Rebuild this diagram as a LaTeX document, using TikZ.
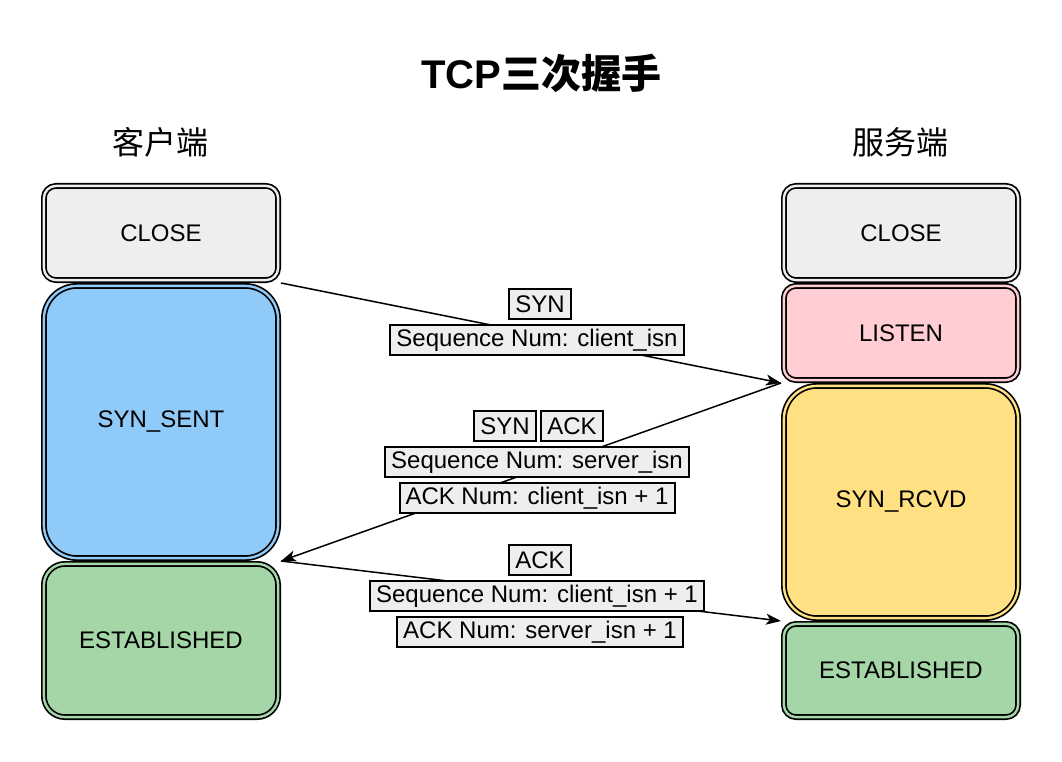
\documentclass[tikz,border=0pt]{standalone}
\usepackage{fontspec}
\setmainfont{Liberation Sans}
\newfontfamily\cjk{Noto Sans CJK SC}
\usetikzlibrary{arrows.meta}
\definecolor{cGray}{HTML}{EEEEEE}
\definecolor{cBlue}{HTML}{90CAF9}
\definecolor{cPink}{HTML}{FFCDD2}
\definecolor{cYellow}{HTML}{FFE082}
\definecolor{cGreen}{HTML}{A5D6A7}
\begin{document}
\begin{tikzpicture}[x=1pt,y=-1pt,
  state/.style n args={3}{draw=black, line width=1.7pt, double=#1, double distance=2.4pt,
    fill=#1, rounded corners=#2, minimum width=234.2pt, minimum height={#3-5.8},
    inner sep=0pt, outer sep=2.9pt, font=\fontsize{24}{28}\selectfont},
  lbl/.style={draw=black, line width=2pt, fill=cGray, inner xsep=6pt, inner ysep=0pt,
    minimum height=30pt, font=\fontsize{24}{28}\selectfont},
  arr/.style={line width=1.5pt, -{Stealth[length=15pt,width=11pt,inset=4pt]}},
  head/.style={font=\fontsize{32}{36}\selectfont\cjk}]
\fill[white] (0,0) rectangle (1062,762);
\useasboundingbox (0,0) rectangle (1062,762);

\node[font=\fontsize{40}{46}\selectfont\bfseries] (title) at (541,73) {TCP{\cjk 三次握手}};
\node[head] (client) at (160,142) {客户端};
\node[head] (server) at (900,142) {服务端};

\node[state={cGray}{12.1pt}{100}] (lclose) at (161,233) {CLOSE};
\node[state={cBlue}{33.1pt}{278}] (lsyn) at (161,422) {SYN\_SENT};
\node[state={cGreen}{21.1pt}{159}] (lest) at (161,640.5) {ESTABLISHED};

\node[state={cGray}{12.1pt}{100}] (rclose) at (901,233) {CLOSE};
\node[state={cPink}{12.1pt}{100}] (rlisten) at (901,333) {LISTEN};
\node[state={cYellow}{33.1pt}{238}] (rrcvd) at (901,502) {SYN\_RCVD};
\node[state={cGreen}{12.1pt}{99}] (rest) at (901,670.5) {ESTABLISHED};

\draw[arr] (lclose.south east) -- (rlisten.south west);
\draw[arr] (rlisten.south west) -- (lsyn.south east);
\draw[arr] (lsyn.south east) -- (rrcvd.south west);

\node[lbl] (l1a) at (540,304) {SYN};
\node[lbl] (l1b) at (537,340) {Sequence Num: client\_isn};
\node[lbl] (l2a) at (505,426) {SYN};
\node[lbl] (l2b) at (572,426) {ACK};
\node[lbl] (l2c) at (537,462) {Sequence Num: server\_isn};
\node[lbl] (l2d) at (537,498) {ACK Num: client\_isn + 1};
\node[lbl] (l3a) at (540,560) {ACK};
\node[lbl] (l3b) at (537,596) {Sequence Num: client\_isn + 1};
\node[lbl] (l3c) at (540,632) {ACK Num: server\_isn + 1};
\end{tikzpicture}
\end{document}
